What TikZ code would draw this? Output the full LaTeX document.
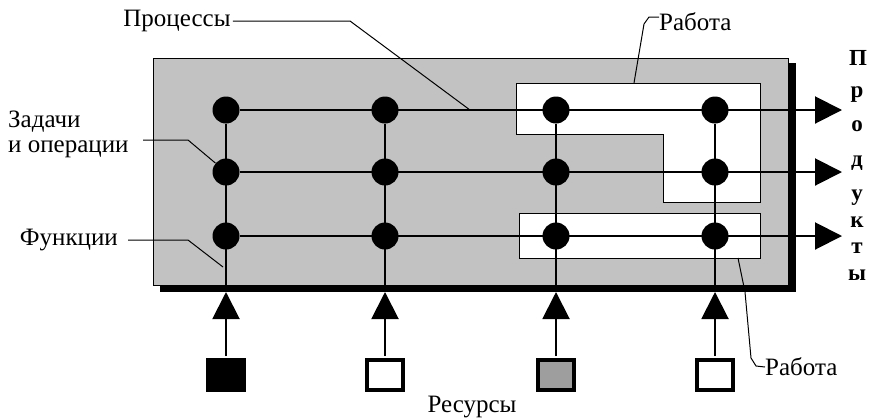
\documentclass[tikz,border=0pt]{standalone}
\usepackage{fontspec}
\setmainfont{Liberation Serif}
\usetikzlibrary{arrows.meta,calc}
\begin{document}
\begin{tikzpicture}[x=1pt,y=-1pt,
  dot/.style={circle,fill=black,minimum size=27pt,inner sep=0pt},
  flow/.style={line width=2pt},
  outarrow/.style={line width=2pt,-{Triangle[length=27pt,width=27pt]}},
  lbl/.style={font=\fontsize{25}{25}\selectfont,inner sep=0pt},
  lead/.style={line width=1pt},
  res/.style={draw=black,line width=4pt,minimum width=36pt,minimum height=30pt,inner sep=0pt},
  letter/.style={font=\fontsize{23}{23}\selectfont\bfseries,inner sep=0pt},
  panel/.style={fill=black!24,draw=black,line width=1pt},
  workbox/.style={fill=white,draw=black,line width=0.8pt},
]
\useasboundingbox (0,0) rectangle (869,418);
\fill[white] (0,0) rectangle (869,418);

% main panel with shadow
\fill[black] (160,63) rectangle (796,292);
\filldraw[panel] (153,58) rectangle (788,285);

% work areas
\filldraw[workbox] (516,83) -- (760,83) -- (760,202) -- (663,202) -- (663,134) -- (516,134) -- cycle;
\filldraw[workbox] (519,213) rectangle (760,258);

% dots, coordinates, resources
\foreach \c/\x/\f in {1/226/black,2/385/white,3/556/black!38,4/715/white} {
  \foreach \r/\y in {1/110,2/172,3/236} {
    \node[dot] (d\c\r) at (\x,\y) {};
  }
  \coordinate (b\c) at (\x,285);
  \coordinate (t\c) at (\x,292);
  \node[res,fill=\f] (s\c) at (\x,375) {};
}
\foreach \r/\y in {1/110,2/172,3/236} {
  \coordinate (e\r) at (842,\y);
}

% vertical lines
\foreach \c in {1,2,3,4} {
  \draw[flow] (d\c1) -- (b\c);
  \draw[outarrow,shorten <=2pt] (s\c.north) -- (t\c);
}
% horizontal process lines
\foreach \r in {1,2,3} {
  \draw[outarrow] (d1\r) -- (e\r);
}

% labels
\node[lbl] (proc) at (177,21) {Процессы};
\coordinate (p1) at (350,21);
\coordinate (p2) at (470,110);
\draw[lead] ([xshift=2pt]proc.east) -- (p1) -- (p2);

\node[lbl,align=left,anchor=west] (zad) at (8,134.5) {Задачи\\и операции};
\coordinate (z1) at (143,140);
\coordinate (z2) at (188,140);
\draw[lead] (z1) -- (z2) -- (d12);

\node[lbl,anchor=east] (fun) at (118,240) {Функции};
\coordinate (f1) at (188,240);
\coordinate (f2) at (223,267);
\draw[lead] ([xshift=10pt]fun.east) -- (f1) -- (f2);

\node[lbl,anchor=west] (rab1) at (659,22) {Работа};
\coordinate (w1) at (634,83);
\coordinate (w2) at (644,24);
\coordinate (w3) at (649,17);
\draw[lead] (w1) -- (w2) -- (w3) -- ([yshift=5pt]rab1.west);

\node[lbl,anchor=west] (rab2) at (765,367) {Работа};
\coordinate (v1) at (738,258);
\coordinate (v2) at (745,292);
\coordinate (v3) at (751,358);
\coordinate (v4) at (756,366);
\draw[lead] (v1) -- (v2) -- (v3) -- (v4) -- (rab2.west);

\node[lbl] (resu) at (472,407) {Ресурсы};

% vertical word
\node[letter,anchor=center] (L1) at (858,58) {П};
\foreach \n/\l/\y in {2/р/95,3/о/129,4/д/164,5/у/198,6/к/225,7/т/251,8/ы/278} {
  \node[letter,anchor=mid] (L\n) at (857,\y) {\l};
}
\end{tikzpicture}
\end{document}
